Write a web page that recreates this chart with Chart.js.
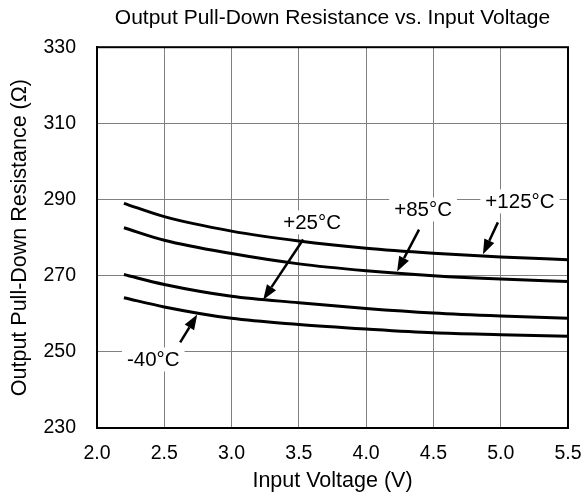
<!DOCTYPE html>
<html>
<head>
<meta charset="utf-8">
<script src="https://cdn.jsdelivr.net/npm/chart.js@4"></script>
<style>
  html, body { margin: 0; padding: 0; background: #fff; }
  #wrap { width: 584px; height: 498px; }
</style>
</head>
<body>
<div id="wrap"><canvas id="myChart"></canvas></div>
<script>
const voltage = [2.2, 2.5, 3.0, 3.5, 4.0, 4.5, 5.0, 5.5];
const r125 = [289.0, 285.5, 281.7, 279.1, 277.2, 275.9, 274.9, 274.2];
const r85 = [282.6, 279.3, 275.8, 273.1, 271.3, 270.0, 269.1, 268.5];
const r25 = [270.3, 267.7, 264.6, 262.9, 261.4, 260.2, 259.4, 258.8];
const rm40 = [264.2, 261.8, 258.8, 257.2, 256.0, 255.0, 254.5, 254.1];
const xTicks = [2.0, 2.5, 3.0, 3.5, 4.0, 4.5, 5.0, 5.5];
const yTicks = [230, 250, 270, 290, 310, 330];

// callouts: label position and arrow (from -> to), in data units
const callouts = [
  { text: '+125°C', lx: 5.143, ly: 289.5, ax: [4.979, 284.0], ah: [4.868, 275.6] },
  { text: '+85°C', lx: 4.423, ly: 287.4, ax: [4.393, 282.1], ah: [4.230, 271.1] },
  { text: '+25°C', lx: 3.598, ly: 284.0, ax: [3.532, 279.5], ah: [3.235, 263.7] },
  { text: '-40°C', lx: 2.418, ly: 248.0, ax: [2.618, 252.5], ah: [2.745, 259.8] }
];

const FONT = "'Liberation Sans', Arial, sans-serif";

function series(vals) {
  return {
    data: voltage.map((v, i) => ({ x: v, y: vals[i] })),
    borderColor: '#000',
    borderWidth: 3,
    pointRadius: 0,
    cubicInterpolationMode: 'monotone',
    fill: false
  };
}

const frame = {
  id: 'frame',
  afterDatasetsDraw(chart) {
    const { ctx, chartArea: a, scales: { x, y } } = chart;
    ctx.save();
    ctx.strokeStyle = '#000';
    ctx.lineWidth = 2;
    ctx.strokeRect(a.left, a.top, a.right - a.left, a.bottom - a.top);

    ctx.font = '20.5px ' + FONT;
    ctx.textAlign = 'center';
    ctx.textBaseline = 'middle';
    callouts.forEach(c => {
      const px = x.getPixelForValue(c.lx), py = y.getPixelForValue(c.ly);
      const w = ctx.measureText(c.text).width;
      ctx.fillStyle = '#fff';
      ctx.fillRect(px - w / 2 - 5, py - 12, w + 10, 24);
      ctx.fillStyle = '#000';
      ctx.fillText(c.text, px, py + 1);

      const x0 = x.getPixelForValue(c.ax[0]), y0 = y.getPixelForValue(c.ax[1]);
      const x1 = x.getPixelForValue(c.ah[0]), y1 = y.getPixelForValue(c.ah[1]);
      const ang = Math.atan2(y1 - y0, x1 - x0);
      const hl = 15, hw = 5.5;
      const bx = x1 - hl * Math.cos(ang), by = y1 - hl * Math.sin(ang);
      ctx.strokeStyle = '#000';
      ctx.lineWidth = 2.5;
      ctx.beginPath();
      ctx.moveTo(x0, y0);
      ctx.lineTo(bx, by);
      ctx.stroke();
      ctx.beginPath();
      ctx.moveTo(x1, y1);
      ctx.lineTo(bx + hw * Math.sin(ang), by - hw * Math.cos(ang));
      ctx.lineTo(bx - hw * Math.sin(ang), by + hw * Math.cos(ang));
      ctx.closePath();
      ctx.fill();
    });
    ctx.restore();
  }
};

new Chart(document.getElementById('myChart'), {
  type: 'line',
  data: {
    datasets: [series(r125), series(r85), series(r25), series(rm40)]
  },
  options: {
    responsive: true,
    maintainAspectRatio: false,
    animation: false,
    layout: { padding: { left: 0, right: 16, top: 0, bottom: 0 } },
    plugins: {
      legend: { display: false },
      tooltip: { enabled: false },
      title: {
        display: true,
        fullSize: false,
        text: 'Output Pull-Down Resistance vs. Input Voltage',
        color: '#000',
        font: { family: FONT, size: 21, weight: 'normal' },
        padding: { top: 6, bottom: 16 }
      }
    },
    scales: {
      x: {
        type: 'linear',
        min: 2.0,
        max: 5.5,
        afterBuildTicks: s => { s.ticks = xTicks.map(v => ({ value: v })); },
        afterFit: s => { s.height = 70; s.paddingRight = 0; s.paddingLeft = 0; },
        ticks: {
          color: '#000',
          font: { family: FONT, size: 19.5 },
          padding: 14,
          maxRotation: 0,
          callback: v => v.toFixed(1)
        },
        grid: { color: '#808080', lineWidth: 1, drawTicks: false },
        border: { color: '#000', width: 2 },
        title: {
          display: true,
          text: 'Input Voltage (V)',
          color: '#000',
          font: { family: FONT, size: 21.5 },
          padding: { top: 4, bottom: 4 }
        }
      },
      y: {
        min: 230,
        max: 330,
        afterBuildTicks: s => { s.ticks = yTicks.map(v => ({ value: v })); },
        afterFit: s => { s.width = 97; },
        ticks: {
          color: '#000',
          font: { family: FONT, size: 19.5 },
          padding: 21
        },
        grid: { color: '#808080', lineWidth: 1, drawTicks: false },
        border: { color: '#000', width: 2 },
        title: {
          display: true,
          text: 'Output Pull-Down Resistance (Ω)',
          color: '#000',
          font: { family: FONT, size: 21.5 },
          padding: { top: 7, bottom: 0 }
        }
      }
    }
  },
  plugins: [frame]
});
</script>
</body>
</html>
